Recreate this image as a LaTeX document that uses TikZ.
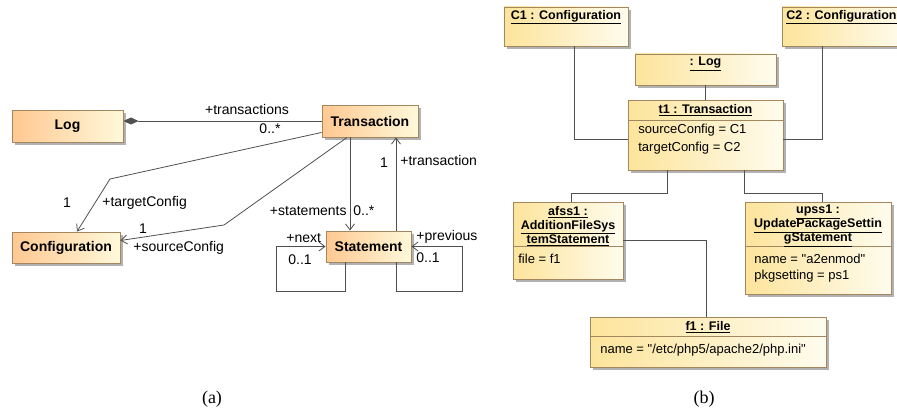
\documentclass[tikz,border=0pt]{standalone}
\usepackage{fontspec}
\setmainfont{Liberation Serif}
\newfontfamily\umlsans{Liberation Sans}
\usetikzlibrary{arrows.meta,shadows}
\definecolor{umlborder}{RGB}{165,135,95}
\definecolor{clsleft}{RGB}{255,200,145}
\definecolor{clsright}{RGB}{255,249,218}
\definecolor{objleft}{RGB}{252,228,155}
\definecolor{objright}{RGB}{255,252,238}
\definecolor{linegrey}{RGB}{80,80,80}
\tikzset{every picture/.style={line width=0.75pt}}
\tikzset{
  umlbox/.style={draw=umlborder, line width=0.9pt, inner sep=0pt,
    drop shadow={shadow xshift=3pt, shadow yshift=-3pt, fill=black!30, opacity=1}},
  clsbox/.style={umlbox, left color=clsleft, right color=clsright,
    font=\umlsans\bfseries\fontsize{14}{16}\selectfont},
  objbox/.style={umlbox, left color=objleft, right color=objright},
  objtitle/.style={inner sep=0pt, align=center, font=\umlsans\bfseries\fontsize{12.5}{14}\selectfont},
  objattr/.style={inner sep=0pt, anchor=west, font=\umlsans\fontsize{13}{15}\selectfont},
  lbl/.style={inner sep=0pt, font=\umlsans\fontsize{14}{16}\selectfont},
  assoc/.style={draw=linegrey, line width=0.8pt, -{Straight Barb[length=6pt,width=9pt]}},
  compo/.style={draw=linegrey, line width=0.8pt, {Diamond[length=15pt,width=7pt]}-},
  link/.style={draw=linegrey, line width=0.8pt},
  caption/.style={inner sep=0pt, font=\fontsize{18}{20}\selectfont},
}

\begin{document}
\begin{tikzpicture}[x=1pt,y=-1pt]
\useasboundingbox (0,0) rectangle (897,412);

%Class boxes (a)
\node[clsbox, minimum width=111pt, minimum height=32pt] (log) at (67.5,126) {Log};
\node[clsbox, minimum width=96pt, minimum height=32pt] (trans) at (370,121) {Transaction};
\node[clsbox, minimum width=108pt, minimum height=31pt] (config) at (66,247.5) {Configuration};
\node[clsbox, minimum width=85pt, minimum height=31pt] (stmt) at (368.5,246.5) {Statement};

%Bend points
\coordinate (tgtbend) at (110,179);
\coordinate (srcbend) at (224,225);
\coordinate (nextc) at (276,291);
\coordinate (prevc) at (462,291);

%Associations
\draw[compo] (log.east |- trans.west) -- (trans.west);
\draw[assoc] ([yshift=5pt]trans.south west) -- (tgtbend) -- ([xshift=11pt]config.north);
\draw[assoc] ([xshift=-23pt]trans.south) -- (srcbend) -- ([yshift=7pt]config.east);
\draw[assoc] ([xshift=-20pt]trans.south) -- ([xshift=-20pt]trans.south |- stmt.north);
\draw[assoc] ([xshift=26pt]trans.south |- stmt.north) -- ([xshift=26pt]trans.south);
\draw[assoc] ([xshift=-23pt]stmt.south) |- (nextc) |- (stmt.west);
\draw[assoc] ([xshift=28pt]stmt.south) |- (prevc) |- (stmt.east);

% Text Node
\node[lbl] (ltrans) at (247,109) {+transactions};
\node[lbl] (mtrans) at (270,129) {0..*};
\node[lbl] (mtgt) at (67,203) {1};
\node[lbl, anchor=west] (ltgt) at (102,203) {+targetConfig};
\node[lbl] (msrc) at (143,229) {1};
\node[lbl, anchor=west] (lsrc) at (133,248) {+sourceConfig};
\node[lbl, anchor=east] (lstmts) at (347,211) {+statements};
\node[lbl, anchor=west] (mstmts) at (353,211) {0..*};
\node[lbl] (mtr) at (384,163) {1};
\node[lbl, anchor=west] (ltr) at (400,160) {+transaction};
\node[lbl, anchor=west] (lnext) at (286,238) {+next};
\node[lbl, anchor=west] (mnext) at (288,260) {0..1};
\node[lbl, anchor=west] (lprev) at (416,237) {+previous};
\node[lbl, anchor=west] (mprev) at (416,258) {0..1};

%Object boxes (b)
\node[objbox, minimum width=124pt, minimum height=39pt] (c1) at (566,26.5) {};
\node[objbox, minimum width=124pt, minimum height=39pt] (c2) at (844,26.5) {};
\node[objbox, minimum width=141pt, minimum height=31pt] (logobj) at (705.5,69.5) {};
\node[objbox, minimum width=155pt, minimum height=70pt] (t1) at (705.5,135) {};
\node[objbox, minimum width=110pt, minimum height=77pt] (afss1) at (568,240.5) {};
\node[objbox, minimum width=146pt, minimum height=92pt] (upss1) at (818,248) {};
\node[objbox, minimum width=236pt, minimum height=50pt] (f1) at (708,342) {};

%Compartment lines
\draw[umlborder, line width=0.9pt] ([yshift=-21pt]t1.north west) -- ([yshift=-21pt]t1.north east);
\draw[umlborder, line width=0.9pt] ([yshift=-45pt]afss1.north west) -- ([yshift=-45pt]afss1.north east);
\draw[umlborder, line width=0.9pt] ([yshift=-45pt]upss1.north west) -- ([yshift=-45pt]upss1.north east);
\draw[umlborder, line width=0.9pt] ([yshift=-20pt]f1.north west) -- ([yshift=-20pt]f1.north east);

%Links
\draw[link] (logobj.south) -- (logobj.south |- t1.north);
\draw[link] ([xshift=8pt]c1.south) |- ([yshift=-4pt]t1.west);
\draw[link] ([xshift=-22pt]c2.south) |- ([yshift=-4pt]t1.east);
\draw[link] ([xshift=-38pt]t1.south) -- ++(0,23) -| ([xshift=3pt]afss1.north);
\draw[link] ([xshift=38.5pt]t1.south) -- ++(0,23) -| ([xshift=4pt]upss1.north);
\draw[link] (afss1.east) -| ([xshift=-2pt]f1.north);

% Text Node
\node[objtitle] (c1name) at (566,17) {\underline{C1 : Configuration}};
\node[objtitle] (c2name) at (841.5,17) {\underline{C2 : Configuration}};
\node[objtitle] (logname) at (705.5,64) {\underline{: Log}};
\node[objtitle] (t1name) at (705.5,110) {\underline{t1 : Transaction}};
\node[objattr] (t1src) at (638,130) {sourceConfig = C1};
\node[objattr] (t1tgt) at (638,148) {targetConfig = C2};
\node[objtitle] (afname) at (568,226) {\underline{afss1 :}\\\underline{AdditionFileSys}\\\underline{temStatement}};
\node[objattr] (affile) at (518,259) {file = f1};
\node[objtitle] (upname) at (818,226) {\underline{upss1 :}\\\underline{UpdatePackageSettin}\\\underline{gStatement}};
\node[objattr] (upname2) at (754,259) {name = "a2enmod"};
\node[objattr] (uppkg) at (754,276) {pkgsetting = ps1};
\node[objtitle] (f1name) at (708,327) {\underline{f1 : File}};
\node[objattr] (f1path) at (600,350) {name = "/etc/php5/apache2/php.ini"};

%Captions
\node[caption] (capa) at (212,399) {(a)};
\node[caption] (capb) at (704,399) {(b)};
\end{tikzpicture}
\end{document}
